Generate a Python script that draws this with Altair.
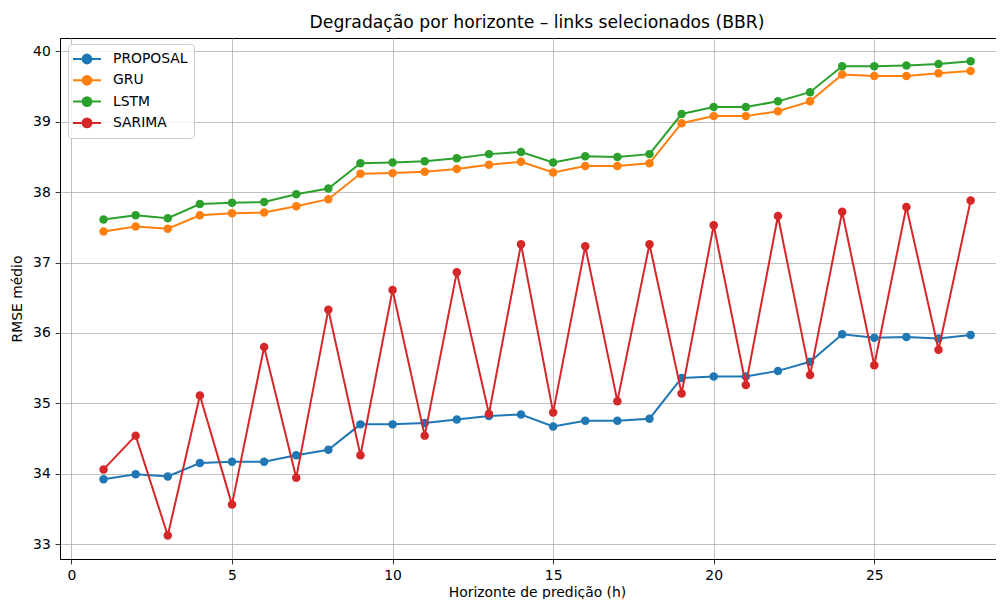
import altair as alt
import pandas as pd

hours = list(range(1, 29))
proposal = [33.92, 33.99, 33.96, 34.15, 34.17, 34.17, 34.26, 34.34, 34.70, 34.70,
            34.72, 34.77, 34.82, 34.84, 34.67, 34.75, 34.75, 34.78, 35.36, 35.38,
            35.38, 35.46, 35.59, 35.98, 35.93, 35.94, 35.92, 35.97]
gru = [37.44, 37.51, 37.48, 37.67, 37.70, 37.71, 37.80, 37.90, 38.26, 38.27,
       38.29, 38.33, 38.39, 38.43, 38.28, 38.37, 38.37, 38.41, 38.98, 39.08,
       39.08, 39.15, 39.29, 39.67, 39.65, 39.65, 39.69, 39.72]
lstm = [37.61, 37.67, 37.63, 37.83, 37.85, 37.86, 37.97, 38.05, 38.41, 38.42,
        38.44, 38.48, 38.54, 38.57, 38.42, 38.51, 38.50, 38.54, 39.11, 39.21,
        39.21, 39.29, 39.42, 39.79, 39.79, 39.80, 39.82, 39.86]
sarima = [34.06, 34.54, 33.12, 35.11, 33.56, 35.80, 33.94, 36.33, 34.26, 36.61,
          34.54, 36.86, 34.85, 37.26, 34.87, 37.23, 35.03, 37.26, 35.14, 37.53,
          35.26, 37.66, 35.40, 37.72, 35.54, 37.79, 35.76, 37.88]

series_names = ["PROPOSAL", "GRU", "LSTM", "SARIMA"]
series_colors = ["#1f77b4", "#ff7f0e", "#2ca02c", "#d62728"]
x_ticks = [0, 5, 10, 15, 20, 25]
y_ticks = [33, 34, 35, 36, 37, 38, 39, 40]

rows = []
for name, vals in zip(series_names, [proposal, gru, lstm, sarima]):
    for h, v in zip(hours, vals):
        rows.append({"h": h, "rmse": v, "modelo": name})
df = pd.DataFrame(rows)

FONT = "DejaVu Sans"
legend_path = ("M-1.75,0L1.75,0M-0.55,0A0.55,0.55,0,1,1,0.55,0"
               "A0.55,0.55,0,1,1,-0.55,0Z")
legend = alt.Legend(
    title=None, orient="none", legendX=8, legendY=6,
    symbolType=legend_path, symbolSize=256, symbolStrokeWidth=2,
    symbolOffset=4, labelOffset=17, padding=6, rowPadding=3.3,
    labelFont=FONT, labelFontSize=13.9, labelColor="black",
    strokeColor="#cccccc", fillColor="rgba(255,255,255,0.8)", cornerRadius=3,
)

color = alt.Color("modelo:N", scale=alt.Scale(domain=series_names, range=series_colors),
                  legend=legend)
x = alt.X("h:Q", scale=alt.Scale(domain=[-0.356, 28.79], nice=False, zero=False),
          axis=alt.Axis(values=x_ticks, title="Horizonte de predição (h)", titleX=477))
y = alt.Y("rmse:Q", scale=alt.Scale(domain=[32.787, 40.19], nice=False, zero=False),
          axis=alt.Axis(values=y_ticks, title="RMSE médio"))

base = alt.Chart(df)
layers = []
for name in series_names:
    sub = base.transform_filter(alt.datum.modelo == name)
    layers.append(sub.mark_line(strokeWidth=2).encode(x=x, y=y, color=color))
    layers.append(sub.mark_circle(size=72, opacity=1).encode(x=x, y=y, color=color))

chart = alt.layer(*layers).properties(
    width=936, height=521,
    title=alt.TitleParams("Degradação por horizonte – links selecionados (BBR)",
                          font=FONT, fontSize=17.2, fontWeight="normal", color="black",
                          anchor="middle", dx=9, offset=7),
    autosize=alt.AutoSizeParams(type="none"),
    padding={"left": 52, "top": 30, "right": 0, "bottom": 40},
).configure_view(
    stroke="black", strokeWidth=1
).configure_axis(
    labelFont=FONT, labelFontSize=13.9, labelColor="black",
    titleFont=FONT, titleFontSize=13.9, titleColor="black", titleFontWeight="normal",
    grid=True, gridColor="#b0b0b0", gridWidth=0.8,
    domainColor="black", domainWidth=1,
    tickColor="black", tickSize=4.86, tickWidth=0.8, labelPadding=4.86,
).configure_axisY(
    titlePadding=8
).configure_axisX(
    titlePadding=3
)

chart.save("out.html", embed_options={"renderer": "svg", "actions": False})
